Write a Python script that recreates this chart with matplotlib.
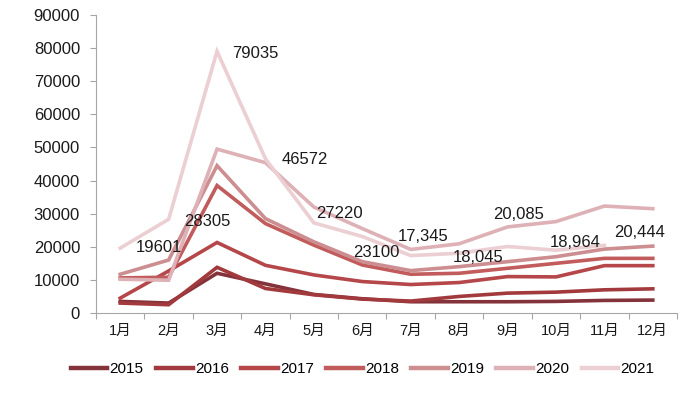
import matplotlib
matplotlib.use("Agg")
import matplotlib.pyplot as plt

plt.rcParams['font.family'] = ['Liberation Sans', 'Noto Sans CJK SC']

months = ['1月', '2月', '3月', '4月', '5月', '6月', '7月', '8月', '9月', '10月', '11月', '12月']
years = ['2015', '2016', '2017', '2018', '2019', '2020', '2021']

s2015 = [3500, 3000, 12000, 8800, 5600, 4300, 3400, 3400, 3400, 3500, 3800, 3900]
s2016 = [3000, 2500, 13800, 7400, 5500, 4200, 3600, 5000, 6000, 6300, 7000, 7300]
s2017 = [4500, 12700, 21300, 14400, 11500, 9500, 8600, 9200, 11000, 10900, 14300, 14300]
s2018 = [10600, 10800, 38500, 27000, 20500, 14500, 11700, 12000, 13500, 15000, 16500, 16500]
s2019 = [11700, 16000, 44500, 28500, 21500, 15500, 12800, 14000, 15500, 17000, 19300, 20200]
s2020 = [10200, 9900, 49500, 45400, 32000, 25500, 19200, 20900, 26000, 27600, 32300, 31500]
s2021 = [19601, 28305, 79035, 46572, 27220, 23100, 17345, 18045, 20085, 18964, 20444]

series = [s2015, s2016, s2017, s2018, s2019, s2020, s2021]
colors = ['#85333b', '#a23a3d', '#b5474a', '#c25b5c', '#cc8e90', '#ddb1b5', '#ebcfd2']

# labels on the 2021 line
labels_2021 = ['19601', '28305', '79035', '46572', '27220', '23100',
               '17,345', '18,045', '20,085', '18,964', '20,444']
label_offsets = [(39, 1), (39, -2), (38, -2), (39, -1), (26, 9), (14, -16),
                 (12, 19), (19, -4), (11, 32), (19, 8), (35, 13)]

fig = plt.figure(figsize=(6.96, 3.94), dpi=100)
ax = fig.add_axes([96 / 696, 81 / 394, 581 / 696, 298 / 394])

x = list(range(12))
for name, vals, c in zip(years, series, colors):
    ax.plot(x[:len(vals)], vals, color=c, linewidth=2.6, label=name,
            solid_joinstyle='miter')

for i, (txt, off) in enumerate(zip(labels_2021, label_offsets)):
    ax.annotate(txt, (x[i], s2021[i]), xytext=off, textcoords='offset pixels',
                ha='center', va='center', fontsize=12, color='#1a1a1a')

ax.set_xlim(-0.5, 11.5)
ax.set_ylim(0, 90000)
ax.set_yticks(range(0, 90001, 10000))
ax.tick_params(axis='y', labelsize=12, length=4.5, width=0.8, color='#a6a6a6',
               pad=7, labelcolor='#1a1a1a')

# category axis: ticks between months, labels centred
ax.set_xticks([i - 0.5 for i in range(13)])
ax.set_xticklabels([])
ax.set_xticks(x, minor=True)
ax.set_xticklabels(months, minor=True, fontsize=10.5)
ax.tick_params(axis='x', which='major', length=4.5, width=0.8, color='#a6a6a6')
ax.tick_params(axis='x', which='minor', length=0, pad=8, labelcolor='#1a1a1a')

for side in ['top', 'right']:
    ax.spines[side].set_visible(False)
for side in ['left', 'bottom']:
    ax.spines[side].set_color('#a6a6a6')
    ax.spines[side].set_linewidth(0.8)

leg = fig.legend(loc='center', bbox_to_anchor=(0.521, 0.063), ncol=7,
                 frameon=False, fontsize=11, handlelength=2.4,
                 handletextpad=0.15, columnspacing=0.8)
for h in leg.get_lines():
    h.set_linewidth(3.2)

fig.savefig('out.png', dpi=100)
